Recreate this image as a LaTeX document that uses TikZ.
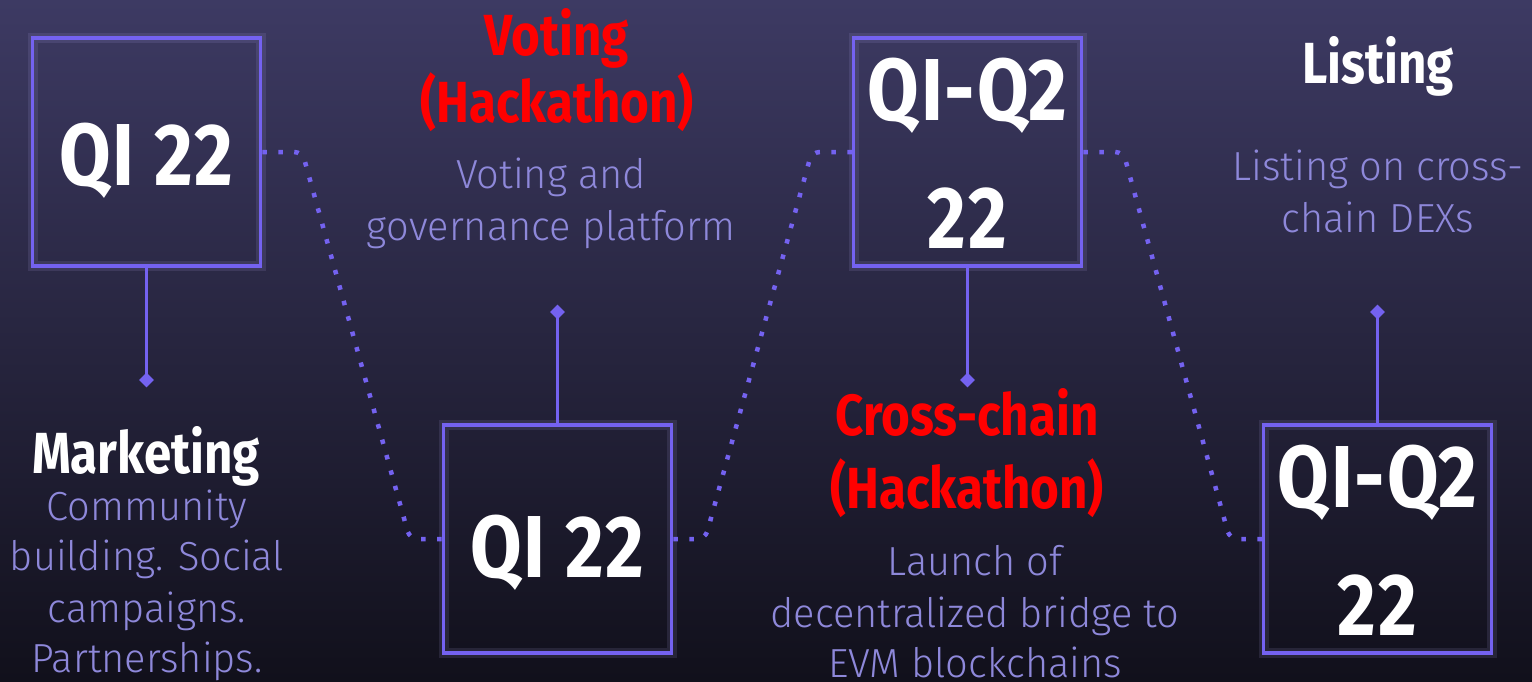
\documentclass[tikz,border=0pt]{standalone}
\usepackage{fontspec}
\usetikzlibrary{calc,shapes.geometric}
\newfontfamily\boxfont[FakeStretch=0.85,LetterSpace=2]{Fira Sans}
\newfontfamily\headfont[FakeStretch=0.85]{Fira Sans}
\newfontfamily\bodyfont[FakeStretch=0.98]{Fira Sans Light}
\definecolor{bgtop}{HTML}{3D3A63}
\definecolor{bgbot}{HTML}{11101B}
\definecolor{boxc}{HTML}{7462F0}
\definecolor{bodyc}{HTML}{8E88DA}
\definecolor{redc}{HTML}{FF0000}
\begin{document}
\begin{tikzpicture}[x=1pt,y=-1pt,
  qbox/.style={draw=boxc, line width=3.5pt, minimum width=228pt, minimum height=228pt, inner sep=0pt,
    preaction={draw=boxc!50!white, line width=10pt, draw opacity=0.12}},
  stemline/.style={draw=boxc, line width=3.5pt},
  tipmark/.style={diamond, fill=boxc, minimum width=15pt, minimum height=15pt, inner sep=0pt},
  dots/.style={draw=boxc, line width=4.5pt, dash pattern=on 4.5pt off 11.5pt, rounded corners=8pt},
  boxtxt/.style={anchor=base, inner sep=0pt, text=white, font=\boxfont\bfseries\fontsize{88}{88}\selectfont},
  head/.style={anchor=base, inner sep=0pt, font=\headfont\bfseries\fontsize{58}{58}\selectfont},
  body/.style={anchor=base, inner sep=0pt, text=bodyc, font=\bodyfont\fontsize{40.6}{50}\selectfont}]
\useasboundingbox (0,0) rectangle (1532,681);
\clip (0,0) rectangle (1532,681);
\shade[top color=bgtop, bottom color=bgbot] (0,0) rectangle (1532,681);

% boxes
\node[qbox] (b1) at (146.5,152) {};
\node[qbox] (b2) at (557.5,539) {};
\node[qbox] (b3) at (967.5,152) {};
\node[qbox] (b4) at (1377.5,539) {};

% diamonds and stems
\node[tipmark] (d1) at (146.5,380) {};
\node[tipmark] (d2) at (557.5,312) {};
\node[tipmark] (d3) at (967.5,380) {};
\node[tipmark] (d4) at (1377.5,312) {};
\draw[stemline] (b1.south) -- (d1.center);
\draw[stemline] (b2.north) -- (d2.center);
\draw[stemline] (b3.south) -- (d3.center);
\draw[stemline] (b4.north) -- (d4.center);

% dotted connectors
\draw[dots] (b1.east) -- ++(40,0) -- ($(b2.west)+(-32,0)$) -- (b2.west);
\draw[dots] (b2.east) -- ++(32,0) -- ($(b3.west)+(-40,0)$) -- (b3.west);
\draw[dots] (b3.east) -- ++(40,0) -- ($(b4.west)+(-32,0)$) -- (b4.west);

% box texts
\node[boxtxt] (q1) at (146.5,185) {QI 22};
\node[boxtxt] (q2) at (557.5,577) {QI 22};
\node[boxtxt] (q3a) at (967.5,120) {QI-Q2};
\node[boxtxt] (q3b) at (967.5,248) {22};
\node[boxtxt] (q4a) at (1377.5,507) {QI-Q2};
\node[boxtxt] (q4b) at (1377.5,635) {22};

% Marketing
\node[head, text=white] (m0) at (146,473) {Marketing};
\node[body] (m1) at (147,520) {Community};
\node[body] (m2) at (147,570) {building. Social};
\node[body] (m3) at (147,622) {campaigns.};
\node[body] (m4) at (147,672) {Partnerships.};

% Voting
\node[head, text=redc] (v0) at (557,55) {Voting};
\node[head, text=redc] (v1) at (557,122) {(Hackathon)};
\node[body] (v2) at (551,188) {Voting and};
\node[body] (v3) at (551,240) {governance platform};

% Cross-chain
\node[head, text=redc] (c0) at (967,435) {Cross-chain};
\node[head, text=redc] (c1) at (967,508) {(Hackathon)};
\node[body] (c2) at (975,575) {Launch of};
\node[body] (c3) at (975,627) {decentralized bridge to};
\node[body] (c4) at (975,677) {EVM blockchains};

% Listing
\node[head, text=white] (l0) at (1378,83) {Listing};
\node[body] (l1) at (1378,180) {Listing on cross-};
\node[body] (l2) at (1378,232) {chain DEXs};
\end{tikzpicture}
\end{document}
